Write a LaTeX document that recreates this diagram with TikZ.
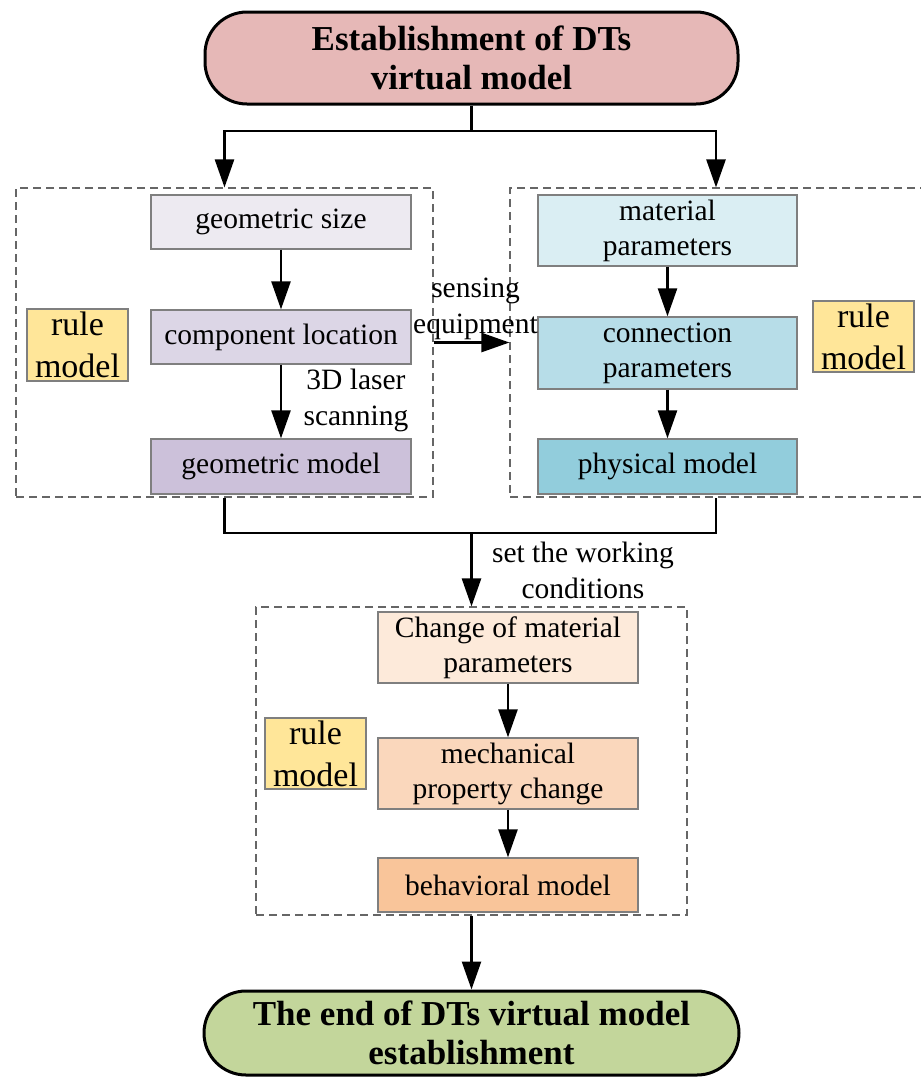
\documentclass[tikz,border=0pt]{standalone}
\usepackage{fontspec}
\setmainfont{Liberation Serif}
\usetikzlibrary{arrows.meta}
\definecolor{cTop}{HTML}{E6B8B7}
\definecolor{cBot}{HTML}{C3D69B}
\definecolor{cGs}{HTML}{EDEAF1}
\definecolor{cCl}{HTML}{DCD6E6}
\definecolor{cGm}{HTML}{CCC1DA}
\definecolor{cMp}{HTML}{DAEEF3}
\definecolor{cCp}{HTML}{B7DDE8}
\definecolor{cPm}{HTML}{92CDDC}
\definecolor{cCh}{HTML}{FDEADA}
\definecolor{cMe}{HTML}{FAD7BC}
\definecolor{cBe}{HTML}{F9C59A}
\definecolor{cRule}{HTML}{FFE699}
\definecolor{cBorder}{HTML}{7F7F7F}
\definecolor{cDash}{HTML}{666666}
\begin{document}
\begin{tikzpicture}[x=1pt,y=-1pt,
  pill/.style={draw=black,line width=3pt,rounded corners=42pt,align=center,inner sep=0pt,
    font=\bfseries\fontsize{35}{39}\selectfont},
  stepbox/.style={draw=cBorder,line width=1.3pt,minimum width=260pt,align=center,inner sep=0pt,
    font=\fontsize{29.5}{35}\selectfont},
  rulebox/.style={draw=cBorder,line width=1.3pt,fill=cRule,minimum width=101pt,minimum height=72pt,
    align=center,inner sep=0pt,font=\fontsize{34}{42}\selectfont},
  group/.style={draw=cDash,line width=1.1pt,dash pattern=on 8pt off 5pt,inner sep=0pt},
  lbl/.style={align=center,inner sep=0pt,font=\fontsize{29.5}{36}\selectfont},
  conn/.style={line width=2.5pt},
  arr/.style={line width=2.5pt,-{Triangle[length=28pt,width=19pt]}}
]
\useasboundingbox (0,0) rectangle (921,1077);

% top terminator
\node[pill,fill=cTop,minimum width=533pt,minimum height=92pt] (top) at (471.5,58) {Establishment of DTs\\virtual model};

% dashed groups
\node[group,minimum width=417pt,minimum height=309pt] (lgrp) at (224.5,342.5) {};
\node[group,minimum width=412pt,minimum height=309pt] (rgrp) at (716,342.5) {};
\node[group,minimum width=431pt,minimum height=308pt] (bgrp) at (471.5,761) {};

% left column
\node[stepbox,fill=cGs,minimum height=54pt] (gs) at (281,222) {geometric size};
\node[stepbox,fill=cCl,minimum height=54pt] (cl) at (281,337) {component location};
\node[stepbox,fill=cGm,minimum height=55pt] (gm) at (281,466.5) {geometric model};
\node[rulebox] (rl) at (77.5,345) {rule\\model};

% right column
\node[stepbox,fill=cMp,minimum width=259pt,minimum height=71pt] (mp) at (667.5,230.5) {material\\parameters};
\node[stepbox,fill=cCp,minimum width=259pt,minimum height=72pt] (cp) at (667.5,353) {connection\\parameters};
\node[stepbox,fill=cPm,minimum width=259pt,minimum height=55pt] (pm) at (667.5,466.5) {physical model};
\node[rulebox,minimum height=71pt] (rr) at (863.5,336.5) {rule\\model};

% bottom column
\node[stepbox,fill=cCh,minimum height=71pt] (ch) at (508,647.5) {Change of material\\parameters};
\node[stepbox,fill=cMe,minimum height=71pt] (me) at (508,773.5) {mechanical\\property change};
\node[stepbox,fill=cBe,minimum height=54pt] (be) at (508,885) {behavioral model};
\node[rulebox,minimum height=71pt] (rb) at (315.5,753.5) {rule\\model};

% end terminator
\node[pill,fill=cBot,minimum width=535pt,minimum height=84pt] (bot) at (471.5,1033) {The end of DTs virtual model\\establishment};

% labels
\node[lbl] (lsense) at (475.5,309) {sensing\\equipment};
\node[lbl] (llaser) at (356,400) {3D laser\\scanning};
\node[lbl] (lset) at (583,570) {set the working\\conditions};

% connectors
\coordinate (jtop) at (471.5,131);
\coordinate (jbot) at (471.5,533);
\draw[conn] (top.south) -- (jtop);
\draw[arr] (jtop) -| (lgrp.north);
\draw[arr] (jtop) -| (rgrp.north);
\draw[arr] (gs) -- (cl);
\draw[arr] (cl) -- (gm);
\draw[arr] (mp) -- (cp);
\draw[arr] (cp) -- (pm);
\draw[arr] (lgrp.east) -- (rgrp.west);
\draw[conn] (lgrp.south) |- (jbot) -| (rgrp.south);
\draw[arr] (jbot) -- (bgrp.north);
\draw[arr] (ch) -- (me);
\draw[arr] (me) -- (be);
\draw[arr] (bgrp.south) -- (bot.north);
\end{tikzpicture}
\end{document}
